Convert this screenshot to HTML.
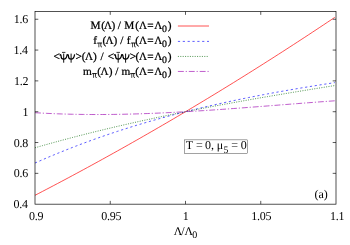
<!DOCTYPE html><html><head><meta charset="utf-8"><style>html,body{margin:0;padding:0;background:#fff}svg{display:block;will-change:transform}text{font-family:"Liberation Serif",serif;fill:#000;text-rendering:geometricPrecision}.lg text{stroke:#000;stroke-width:0.24px}</style></head><body>
<svg width="350" height="245" viewBox="0 0 350 245">
<rect width="350" height="245" fill="#fff"/>
<g fill="none" stroke-width="0.68">
<path d="M35.00 195.31 L38.75 193.37 L42.49 191.42 L46.24 189.46 L49.99 187.50 L53.74 185.53 L57.48 183.55 L61.23 181.57 L64.98 179.58 L68.73 177.58 L72.47 175.57 L76.22 173.56 L79.97 171.54 L83.72 169.51 L87.46 167.48 L91.21 165.44 L94.96 163.39 L98.71 161.33 L102.45 159.27 L106.20 157.20 L109.95 155.12 L113.70 153.04 L117.44 150.95 L121.19 148.85 L124.94 146.74 L128.69 144.63 L132.43 142.51 L136.18 140.38 L139.93 138.25 L143.68 136.10 L147.42 133.95 L151.17 131.80 L154.92 129.63 L158.67 127.46 L162.41 125.29 L166.16 123.10 L169.91 120.91 L173.66 118.71 L177.40 116.50 L181.15 114.29 L184.90 112.07 L188.65 109.84 L192.39 107.61 L196.14 105.36 L199.89 103.12 L203.64 100.86 L207.38 98.60 L211.13 96.32 L214.88 94.05 L218.63 91.76 L222.37 89.47 L226.12 87.17 L229.87 84.86 L233.61 82.55 L237.36 80.23 L241.11 77.90 L244.86 75.56 L248.60 73.22 L252.35 70.87 L256.10 68.51 L259.85 66.15 L263.59 63.78 L267.34 61.40 L271.09 59.02 L274.84 56.62 L278.58 54.22 L282.33 51.82 L286.08 49.40 L289.83 46.98 L293.57 44.55 L297.32 42.12 L301.07 39.67 L304.82 37.22 L308.56 34.77 L312.31 32.30 L316.06 29.83 L319.81 27.35 L323.55 24.87 L327.30 22.37 L331.05 19.87 L334.80 17.37" stroke="#ff0000"/>
<path d="M35.00 163.03 L38.75 161.37 L42.49 159.74 L46.24 158.12 L49.99 156.53 L53.74 154.96 L57.48 153.42 L61.23 151.89 L64.98 150.38 L68.73 148.90 L72.47 147.43 L76.22 145.99 L79.97 144.56 L83.72 143.16 L87.46 141.77 L91.21 140.40 L94.96 139.05 L98.71 137.73 L102.45 136.42 L106.20 135.12 L109.95 133.85 L113.70 132.59 L117.44 131.36 L121.19 130.14 L124.94 128.93 L128.69 127.75 L132.43 126.58 L136.18 125.42 L139.93 124.29 L143.68 123.17 L147.42 122.07 L151.17 120.98 L154.92 119.91 L158.67 118.85 L162.41 117.81 L166.16 116.78 L169.91 115.77 L173.66 114.77 L177.40 113.79 L181.15 112.82 L184.90 111.86 L188.65 110.92 L192.39 110.00 L196.14 109.08 L199.89 108.18 L203.64 107.29 L207.38 106.42 L211.13 105.55 L214.88 104.70 L218.63 103.86 L222.37 103.03 L226.12 102.22 L229.87 101.41 L233.61 100.62 L237.36 99.84 L241.11 99.06 L244.86 98.30 L248.60 97.55 L252.35 96.81 L256.10 96.08 L259.85 95.36 L263.59 94.65 L267.34 93.94 L271.09 93.25 L274.84 92.56 L278.58 91.89 L282.33 91.22 L286.08 90.56 L289.83 89.91 L293.57 89.26 L297.32 88.62 L301.07 87.99 L304.82 87.37 L308.56 86.76 L312.31 86.15 L316.06 85.54 L319.81 84.95 L323.55 84.36 L327.30 83.77 L331.05 83.19 L334.80 82.62" stroke="#1010ff" stroke-dasharray="2.2 2.65"/>
<path d="M35.00 147.77 L38.75 146.70 L42.49 145.63 L46.24 144.58 L49.99 143.53 L53.74 142.50 L57.48 141.48 L61.23 140.46 L64.98 139.46 L68.73 138.47 L72.47 137.48 L76.22 136.51 L79.97 135.54 L83.72 134.58 L87.46 133.64 L91.21 132.70 L94.96 131.77 L98.71 130.85 L102.45 129.94 L106.20 129.03 L109.95 128.14 L113.70 127.25 L117.44 126.37 L121.19 125.50 L124.94 124.64 L128.69 123.78 L132.43 122.94 L136.18 122.10 L139.93 121.27 L143.68 120.44 L147.42 119.63 L151.17 118.82 L154.92 118.01 L158.67 117.22 L162.41 116.43 L166.16 115.65 L169.91 114.87 L173.66 114.10 L177.40 113.34 L181.15 112.58 L184.90 111.83 L188.65 111.09 L192.39 110.35 L196.14 109.62 L199.89 108.89 L203.64 108.17 L207.38 107.45 L211.13 106.74 L214.88 106.04 L218.63 105.34 L222.37 104.64 L226.12 103.95 L229.87 103.27 L233.61 102.59 L237.36 101.91 L241.11 101.24 L244.86 100.57 L248.60 99.91 L252.35 99.25 L256.10 98.59 L259.85 97.94 L263.59 97.29 L267.34 96.65 L271.09 96.01 L274.84 95.37 L278.58 94.74 L282.33 94.11 L286.08 93.48 L289.83 92.86 L293.57 92.24 L297.32 91.62 L301.07 91.00 L304.82 90.39 L308.56 89.78 L312.31 89.17 L316.06 88.56 L319.81 87.96 L323.55 87.35 L327.30 86.75 L331.05 86.15 L334.80 85.55" stroke="#006400" stroke-dasharray="1 1.4"/>
<path d="M35.00 112.70 L38.75 112.92 L42.49 113.13 L46.24 113.32 L49.99 113.50 L53.74 113.66 L57.48 113.81 L61.23 113.94 L64.98 114.06 L68.73 114.17 L72.47 114.26 L76.22 114.33 L79.97 114.40 L83.72 114.45 L87.46 114.49 L91.21 114.51 L94.96 114.52 L98.71 114.52 L102.45 114.51 L106.20 114.49 L109.95 114.45 L113.70 114.41 L117.44 114.35 L121.19 114.29 L124.94 114.21 L128.69 114.12 L132.43 114.02 L136.18 113.91 L139.93 113.80 L143.68 113.67 L147.42 113.54 L151.17 113.39 L154.92 113.24 L158.67 113.08 L162.41 112.91 L166.16 112.73 L169.91 112.55 L173.66 112.36 L177.40 112.16 L181.15 111.96 L184.90 111.75 L188.65 111.53 L192.39 111.31 L196.14 111.08 L199.89 110.84 L203.64 110.60 L207.38 110.36 L211.13 110.11 L214.88 109.85 L218.63 109.60 L222.37 109.33 L226.12 109.07 L229.87 108.80 L233.61 108.52 L237.36 108.25 L241.11 107.97 L244.86 107.69 L248.60 107.40 L252.35 107.12 L256.10 106.83 L259.85 106.54 L263.59 106.25 L267.34 105.96 L271.09 105.66 L274.84 105.37 L278.58 105.08 L282.33 104.78 L286.08 104.49 L289.83 104.20 L293.57 103.90 L297.32 103.61 L301.07 103.32 L304.82 103.03 L308.56 102.74 L312.31 102.46 L316.06 102.17 L319.81 101.89 L323.55 101.61 L327.30 101.34 L331.05 101.07 L334.80 100.80" stroke="#a010b4" stroke-dasharray="5.9 1.9 1.2 1.9"/>
<path d="M177.9 26.00 H209.0" stroke="#ff0000"/>
<path d="M177.9 41.40 H209.0" stroke="#1010ff" stroke-dasharray="2.2 2.65"/>
<path d="M177.9 56.45 H209.0" stroke="#006400" stroke-dasharray="1 1.4"/>
<path d="M177.9 71.45 H209.0" stroke="#a010b4" stroke-dasharray="5.9 1.9 1.2 1.9"/>
</g>
<g fill="none" stroke="#000" stroke-width="0.68">
<rect x="35.00" y="11.55" width="301.00" height="192.62"/>
<path d="M35.00 173.35 h3.3 M336.00 173.35 h-3.3 M35.00 142.53 h3.3 M336.00 142.53 h-3.3 M35.00 111.71 h3.3 M336.00 111.71 h-3.3 M35.00 80.89 h3.3 M336.00 80.89 h-3.3 M35.00 50.07 h3.3 M336.00 50.07 h-3.3 M35.00 19.25 h3.3 M336.00 19.25 h-3.3 M110.25 204.17 v-3.3 M110.25 11.55 v3.3 M185.50 204.17 v-3.3 M185.50 11.55 v3.3 M260.75 204.17 v-3.3 M260.75 11.55 v3.3 " stroke-width="0.65"/>
<rect x="184.7" y="139.9" width="63.0" height="13.6" stroke-width="0.36"/>
</g>
<text x="13.49" y="208.17" font-size="12.00" letter-spacing="-0.25">0.4</text>
<text x="13.66" y="177.35" font-size="12.00" letter-spacing="-0.25">0.6</text>
<text x="13.76" y="146.53" font-size="12.00" letter-spacing="-0.25">0.8</text>
<text x="22.52" y="115.71" font-size="12.00" letter-spacing="-0.25">1</text>
<text x="13.96" y="84.89" font-size="12.00" letter-spacing="-0.25">1.2</text>
<text x="13.49" y="54.07" font-size="12.00" letter-spacing="-0.25">1.4</text>
<text x="13.66" y="23.25" font-size="12.00" letter-spacing="-0.25">1.6</text>
<text x="28.97" y="219.70" font-size="12.00" letter-spacing="-0.25">0.9</text>
<text x="101.28" y="219.70" font-size="12.00" letter-spacing="-0.25">0.95</text>
<text x="182.73" y="219.70" font-size="12.00" letter-spacing="-0.25">1</text>
<text x="251.23" y="219.70" font-size="12.00" letter-spacing="-0.25">1.05</text>
<text x="329.98" y="219.70" font-size="12.00" letter-spacing="-0.25">1.1</text>
<text x="173.69" y="234.80" font-size="11.70">Λ</text>
<text x="181.30" y="234.80" font-size="12.00">/</text>
<text x="184.59" y="234.80" font-size="11.70">Λ</text>
<text x="192.32" y="238.00" font-size="10.00">0</text>
<text x="314.47" y="198.00" font-size="12.00">(a)</text>
<text x="185.68" y="149.30" font-size="12.00">T</text>
<text x="195.90" y="149.30" font-size="12.00">=</text>
<text x="204.94" y="149.30" font-size="12.00">0,</text>
<text x="216.63" y="149.30" font-size="12.00">μ</text>
<text x="223.53" y="152.60" font-size="9.80">5</text>
<text x="231.20" y="149.30" font-size="12.00">=</text>
<text x="240.84" y="149.30" font-size="12.00">0</text>
<g class="lg">
<text x="90.47" y="28.90" font-size="11.30">M</text>
<text x="101.20" y="28.90" font-size="11.30">(</text>
<text x="104.09" y="28.90" font-size="11.07">Λ</text>
<text x="111.44" y="28.90" font-size="11.30">)</text>
<text x="117.70" y="28.90" font-size="11.30">/</text>
<text x="124.37" y="28.90" font-size="11.30">M</text>
<text x="135.20" y="28.90" font-size="11.30">(</text>
<text x="138.89" y="28.90" font-size="11.07">Λ</text>
<text x="147.24" y="28.90" font-size="11.30">=</text>
<text x="154.29" y="28.90" font-size="11.07">Λ</text>
<text x="161.93" y="31.95" font-size="9.80">0</text>
<text x="167.64" y="28.90" font-size="11.30">)</text>
<text x="93.35" y="44.20" font-size="11.30">f</text>
<g fill="none" stroke="#000"><path d="M97.00 43.60 Q97.40 42.95 98.30 43.00 H102.10" stroke-width="0.9"/><path d="M98.85 43.00 V47.30" stroke-width="0.72"/><path d="M100.80 43.00 V46.20 Q100.80 47.10 102.00 46.95" stroke-width="0.78"/></g>
<text x="102.40" y="44.20" font-size="11.30">(</text>
<text x="105.49" y="44.20" font-size="11.07">Λ</text>
<text x="113.44" y="44.20" font-size="11.30">)</text>
<text x="120.30" y="44.20" font-size="11.30">/</text>
<text x="126.85" y="44.20" font-size="11.30">f</text>
<g fill="none" stroke="#000"><path d="M130.70 43.60 Q131.10 42.95 132.00 43.00 H135.80" stroke-width="0.9"/><path d="M132.55 43.00 V47.30" stroke-width="0.72"/><path d="M134.50 43.00 V46.20 Q134.50 47.10 135.70 46.95" stroke-width="0.78"/></g>
<text x="135.20" y="44.20" font-size="11.30">(</text>
<text x="138.89" y="44.20" font-size="11.07">Λ</text>
<text x="147.24" y="44.20" font-size="11.30">=</text>
<text x="154.29" y="44.20" font-size="11.07">Λ</text>
<text x="161.93" y="47.25" font-size="9.80">0</text>
<text x="167.64" y="44.20" font-size="11.30">)</text>
<text x="53.44" y="59.50" font-size="11.30">&lt;</text>
<text x="75.43" y="59.50" font-size="11.30">&gt;(</text>
<text x="84.89" y="59.50" font-size="11.07">Λ</text>
<text x="93.04" y="59.50" font-size="11.30">)</text>
<text x="100.60" y="59.50" font-size="11.30">/</text>
<text x="107.64" y="59.50" font-size="11.30">&lt;</text>
<text x="129.63" y="59.50" font-size="11.30">&gt;</text>
<text x="135.60" y="59.50" font-size="11.30">(</text>
<text x="138.89" y="59.50" font-size="11.07">Λ</text>
<text x="147.24" y="59.50" font-size="11.30">=</text>
<text x="154.29" y="59.50" font-size="11.07">Λ</text>
<text x="161.93" y="62.55" font-size="9.80">0</text>
<text x="167.64" y="59.50" font-size="11.30">)</text>
<text x="83.06" y="74.75" font-size="11.30">m</text>
<g fill="none" stroke="#000"><path d="M91.70 74.15 Q92.10 73.50 93.00 73.55 H96.80" stroke-width="0.9"/><path d="M93.55 73.55 V77.85" stroke-width="0.72"/><path d="M95.50 73.55 V76.75 Q95.50 77.65 96.70 77.50" stroke-width="0.78"/></g>
<text x="97.20" y="74.75" font-size="11.30">(</text>
<text x="100.59" y="74.75" font-size="11.07">Λ</text>
<text x="108.84" y="74.75" font-size="11.30">)</text>
<text x="115.20" y="74.75" font-size="11.30">/</text>
<text x="121.46" y="74.75" font-size="11.30">m</text>
<g fill="none" stroke="#000"><path d="M129.90 74.15 Q130.30 73.50 131.20 73.55 H135.00" stroke-width="0.9"/><path d="M131.75 73.55 V77.85" stroke-width="0.72"/><path d="M133.70 73.55 V76.75 Q133.70 77.65 134.90 77.50" stroke-width="0.78"/></g>
<text x="135.20" y="74.75" font-size="11.30">(</text>
<text x="138.89" y="74.75" font-size="11.07">Λ</text>
<text x="147.24" y="74.75" font-size="11.30">=</text>
<text x="154.29" y="74.75" font-size="11.07">Λ</text>
<text x="161.93" y="77.80" font-size="9.80">0</text>
<text x="167.64" y="74.75" font-size="11.30">)</text>
</g>
<g fill="none" stroke="#000" stroke-width="1.2" stroke-linecap="butt">
<path d="M63.70 53.60 V62.70" stroke-width="0.95"/><path d="M59.80 55.40 C60.40 54.20 61.10 54.70 61.10 56.30 C61.10 58.50 62.30 59.20 63.70 59.20 C65.60 59.20 66.70 57.90 67.20 54.30"/><path d="M62.00 52.40 H65.40" stroke-width="0.8"/>
<path d="M71.10 53.60 V62.70" stroke-width="0.95"/><path d="M67.20 55.40 C67.80 54.20 68.50 54.70 68.50 56.30 C68.50 58.50 69.70 59.20 71.10 59.20 C73.00 59.20 74.10 57.90 74.60 54.30"/>
<path d="M118.20 53.60 V62.70" stroke-width="0.95"/><path d="M114.30 55.40 C114.90 54.20 115.60 54.70 115.60 56.30 C115.60 58.50 116.80 59.20 118.20 59.20 C120.10 59.20 121.20 57.90 121.70 54.30"/><path d="M116.50 52.40 H119.90" stroke-width="0.8"/>
<path d="M125.60 53.60 V62.70" stroke-width="0.95"/><path d="M121.70 55.40 C122.30 54.20 123.00 54.70 123.00 56.30 C123.00 58.50 124.20 59.20 125.60 59.20 C127.50 59.20 128.60 57.90 129.10 54.30"/>
</g>
</svg></body></html>
